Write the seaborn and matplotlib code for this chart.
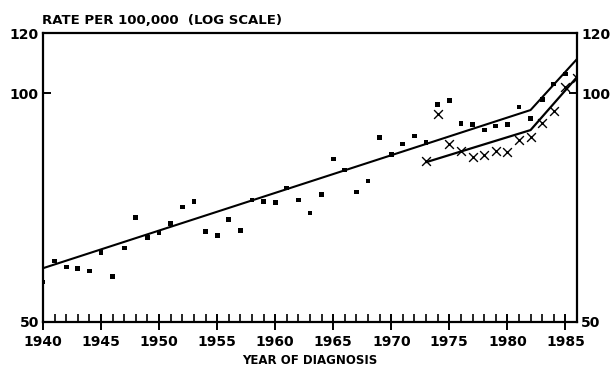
import numpy as np
import pandas as pd
import seaborn as sns
import matplotlib.pyplot as plt
from matplotlib.ticker import NullLocator, FixedLocator

# observed rates (dots), 1940-1985
dot_years = list(range(1940, 1986))
dot_rates = [56.4, 60.1, 59.0, 58.7, 58.3, 61.6, 57.4, 62.5, 68.5, 64.6,
             65.6, 67.4, 70.8, 71.9, 65.8, 65.0, 68.1, 66.0, 72.3, 71.9,
             71.7, 75.0, 72.3, 69.5, 73.6, 81.9, 79.2, 74.1, 76.6, 87.5,
             83.1, 85.7, 87.8, 86.0, 96.7, 97.9, 91.3, 91.0, 89.4, 90.5,
             91.0, 95.9, 92.7, 98.2, 102.8, 106.0]

# second series (crosses), 1973-1986
cross_years = list(range(1973, 1987))
cross_rates = [81.4, 93.9, 85.7, 83.9, 82.4, 82.9, 83.9, 83.6, 86.7, 87.5,
               91.3, 94.7, 101.9, 104.7]

# fitted trend lines
trend1_years = [1940, 1982, 1986]
trend1_rates = [58.8, 95.0, 110.9]
trend2_years = [1973, 1982, 1986]
trend2_rates = [81.1, 89.4, 105.0]

x_ticks = [1940, 1945, 1950, 1955, 1960, 1965, 1970, 1975, 1980, 1985]
y_ticks = [50, 100, 120]

sns.set_style("ticks")
plt.rcParams['font.family'] = ['DejaVu Sans']
plt.rcParams['font.weight'] = 'bold'
plt.rcParams['text.color'] = 'black'
plt.rcParams['xtick.color'] = 'black'
plt.rcParams['ytick.color'] = 'black'
plt.rcParams['axes.edgecolor'] = 'black'
plt.rcParams['axes.labelcolor'] = 'black'

dots = pd.DataFrame({'year': dot_years, 'rate': dot_rates})
crosses = pd.DataFrame({'year': cross_years, 'rate': cross_rates})
t1 = pd.DataFrame({'year': trend1_years, 'rate': trend1_rates})
t2 = pd.DataFrame({'year': trend2_years, 'rate': trend2_rates})

fig = plt.figure(figsize=(6.16, 3.71), dpi=100)
ax = fig.add_axes([0.0698, 0.133, 0.8669, 0.778])

sns.lineplot(data=t1, x='year', y='rate', color='black', lw=1.5, ax=ax)
sns.lineplot(data=t2, x='year', y='rate', color='black', lw=1.6, ax=ax)
sns.scatterplot(data=dots, x='year', y='rate', color='black', marker='s',
                s=12, edgecolor='none', ax=ax, zorder=3)
sns.scatterplot(data=crosses, x='year', y='rate', color='black', marker='x',
                s=40, linewidth=1.0, ax=ax, zorder=3)

ax.set_yscale('log')
ax.set_xlim(1940, 1986)
ax.set_ylim(50, 120)

ax.yaxis.set_major_locator(FixedLocator(y_ticks))
ax.yaxis.set_minor_locator(NullLocator())
ax.set_yticklabels([str(v) for v in y_ticks])
ax.set_xticks(x_ticks)
ax.set_xticklabels([str(v) for v in x_ticks])
ax.xaxis.set_minor_locator(FixedLocator(list(range(1940, 1987))))

ax.tick_params(axis='x', which='major', direction='inout', length=11,
               width=1.4, labelsize=10, pad=4)
ax.tick_params(axis='x', which='minor', direction='in', length=6, width=1.2)
ax.tick_params(axis='y', which='major', direction='in', length=6, width=1.4,
               labelsize=10, right=True, labelright=True, pad=3)

for sp in ax.spines.values():
    sp.set_linewidth(1.6)
    sp.set_visible(True)

ax.set_xlabel('YEAR OF DIAGNOSIS', fontsize=8.5, fontweight='bold', labelpad=4)
ax.set_ylabel('')
fig.text(0.068, 0.946, 'RATE PER 100,000  (LOG SCALE)', fontsize=9.5,
         fontweight='bold', ha='left', va='center')

fig.savefig('out.png', dpi=100)
